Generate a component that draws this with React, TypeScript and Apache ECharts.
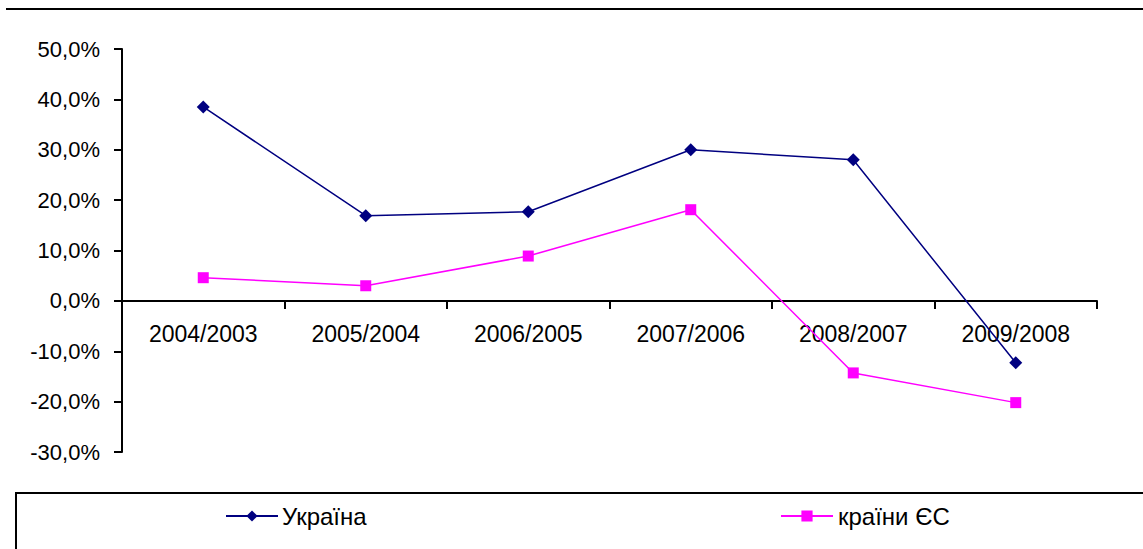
import React, { useEffect, useRef } from "react";
import * as echarts from "echarts";

const categories = ["2004/2003", "2005/2004", "2006/2005", "2007/2006", "2008/2007", "2009/2008"];
const ukraine = [38.5, 16.9, 17.7, 30.0, 28.0, -12.3];
const eu = [4.6, 3.0, 8.9, 18.1, -14.3, -20.2];
const seriesNames = ["Україна", "країни ЄС"];
const yMin = -30;
const yMax = 50;

const FONT = "'Liberation Sans', Arial, sans-serif";

export default function App() {
  const ref = useRef<HTMLDivElement>(null);
  useEffect(() => {
    if (!ref.current) return;
    const chart = echarts.init(ref.current, undefined, { renderer: "svg" });
    const gridTop = 49;
    const gridBottom = 97;
    const gridHeight = 549 - gridTop - gridBottom;
    const zeroOffset = -(gridHeight * (0 - yMin)) / (yMax - yMin);
    chart.setOption({
      animation: false,
      backgroundColor: "#ffffff",
      textStyle: { fontFamily: FONT },
      grid: { left: 122, right: 46, top: gridTop, bottom: gridBottom, containLabel: false },
      xAxis: {
        type: "category",
        data: categories,
        boundaryGap: true,
        position: "bottom",
        offset: zeroOffset,
        axisLine: { onZero: false, lineStyle: { color: "#000", width: 2 } },
        axisTick: { show: true, length: 8, inside: false, lineStyle: { color: "#000", width: 2 } },
        axisLabel: { color: "#000", fontSize: 23, fontFamily: FONT, margin: 22 },
        splitLine: { show: false },
      },
      yAxis: {
        type: "value",
        min: yMin,
        max: yMax,
        interval: 10,
        axisLine: { show: true, lineStyle: { color: "#000", width: 2 } },
        axisTick: { show: true, length: 8, lineStyle: { color: "#000", width: 2 } },
        axisLabel: {
          color: "#000",
          fontSize: 22,
          fontFamily: FONT,
          margin: 22,
          formatter: (v: number) => v.toFixed(1).replace(".", ",") + "%",
        },
        splitLine: { show: false },
      },
      legend: [
        {
          data: [seriesNames[0]],
          left: 225,
          top: 504,
          padding: 0,
          itemWidth: 52,
          itemHeight: 14,
          itemGap: 0,
          textStyle: { color: "#000", fontSize: 24, fontFamily: FONT, padding: [0, 0, 0, -1] },
        },
        {
          data: [seriesNames[1]],
          left: 780,
          top: 504,
          padding: 0,
          itemWidth: 52,
          itemHeight: 14,
          itemGap: 0,
          textStyle: { color: "#000", fontSize: 24, fontFamily: FONT },
        },
      ],
      graphic: [
        {
          type: "line",
          shape: { x1: 6, y1: 9, x2: 1143, y2: 9 },
          style: { stroke: "#000", lineWidth: 2 },
        },
        {
          type: "rect",
          shape: { x: 16, y: 493, width: 1200, height: 100 },
          style: { stroke: "#000", lineWidth: 2, fill: "none" },
        },
      ],
      series: [
        {
          name: seriesNames[0],
          type: "line",
          data: ukraine,
          symbol: "diamond",
          symbolSize: 13,
          lineStyle: { color: "#000080", width: 1.5 },
          itemStyle: { color: "#000080" },
        },
        {
          name: seriesNames[1],
          type: "line",
          data: eu,
          symbol: "rect",
          symbolSize: 11,
          lineStyle: { color: "#ff00ff", width: 1.5 },
          itemStyle: { color: "#ff00ff" },
        },
      ],
    });
    return () => chart.dispose();
  }, []);
  return (
    <div
      ref={ref}
      style={{ position: "fixed", left: 0, top: 0, width: 1143, height: 549 }}
    />
  );
}
